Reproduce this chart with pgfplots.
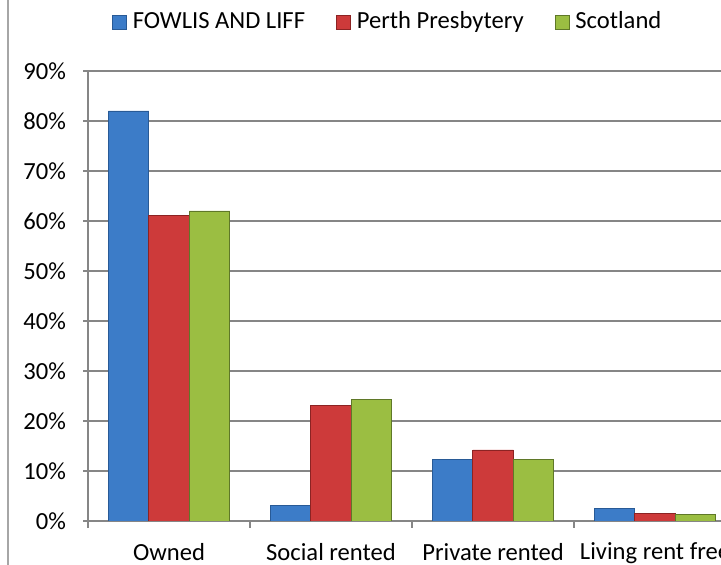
\documentclass[border=0pt]{standalone}
\usepackage{fontspec}
\setmainfont{Carlito}
\usepackage{pgfplots}
\pgfplotsset{compat=1.18}

\definecolor{barblue}{RGB}{60,124,200}
\definecolor{barblueE}{RGB}{40,90,150}
\definecolor{barred}{RGB}{205,58,58}
\definecolor{barredE}{RGB}{140,35,35}
\definecolor{bargreen}{RGB}{155,190,66}
\definecolor{bargreenE}{RGB}{95,120,40}
\definecolor{gridgray}{RGB}{134,134,134}

\newcommand{\chartfont}{\fontsize{12.3}{14.8}\selectfont}

\begin{document}
\begin{tikzpicture}
\useasboundingbox (0,0) rectangle (360.5pt,282.5pt);
\clip (0,0) rectangle (360.5pt,282.5pt);
\draw[gray!70, line width=0.6pt] (4pt,0) -- (4pt,282.5pt);
\begin{axis}[
    at={(44pt,22pt)}, anchor=south west,
    width=324pt, height=225pt, scale only axis,
    ybar=0pt, bar width=20.25pt,
    xmin=-0.5, xmax=3.5, ymin=0, ymax=90,
    xtick={0,1,2,3},
    xticklabels={Owned, Social rented, Private rented, Living rent free},
    minor xtick={-0.5,0.5,1.5,2.5,3.5},
    ytick={0,10,...,90},
    yticklabel={\pgfmathprintnumber{\tick}\%},
    /pgf/number format/assume math mode=true,
    axis x line*=bottom, axis y line*=left,
    axis line style={draw=gridgray, line width=0.6pt},
    ymajorgrids, grid style={draw=gridgray, line width=0.6pt},
    tick align=outside,
    major tick length=2.5pt, minor tick length=3.5pt,
    xtick style={draw=none},
    minor x tick style={draw=gridgray, line width=0.6pt},
    ytick style={draw=gridgray, line width=0.6pt},
    tick label style={font=\chartfont},
    yticklabel style={xshift=-5pt},
    xticklabel style={yshift=-5pt},
    legend columns=3,
    legend style={at={(0.464,1.109)}, anchor=center, draw=none, fill=none,
        font=\chartfont, /tikz/every even column/.append style={column sep=13.5pt}},
    legend image code/.code={\draw[#1] (0pt,-3.5pt) rectangle (7pt,3.5pt); \path (8pt,0pt);},
]
\addplot[fill=barblue, draw=barblueE] coordinates {(0,82) (1,3.1) (2,12.3) (3,2.5)};
\addplot[fill=barred, draw=barredE] coordinates {(0,61.1) (1,23.1) (2,14.2) (3,1.5)};
\addplot[fill=bargreen, draw=bargreenE] coordinates {(0,62) (1,24.3) (2,12.3) (3,1.3)};
\legend{FOWLIS AND LIFF, Perth Presbytery, Scotland}
\end{axis}
\end{tikzpicture}
\end{document}
